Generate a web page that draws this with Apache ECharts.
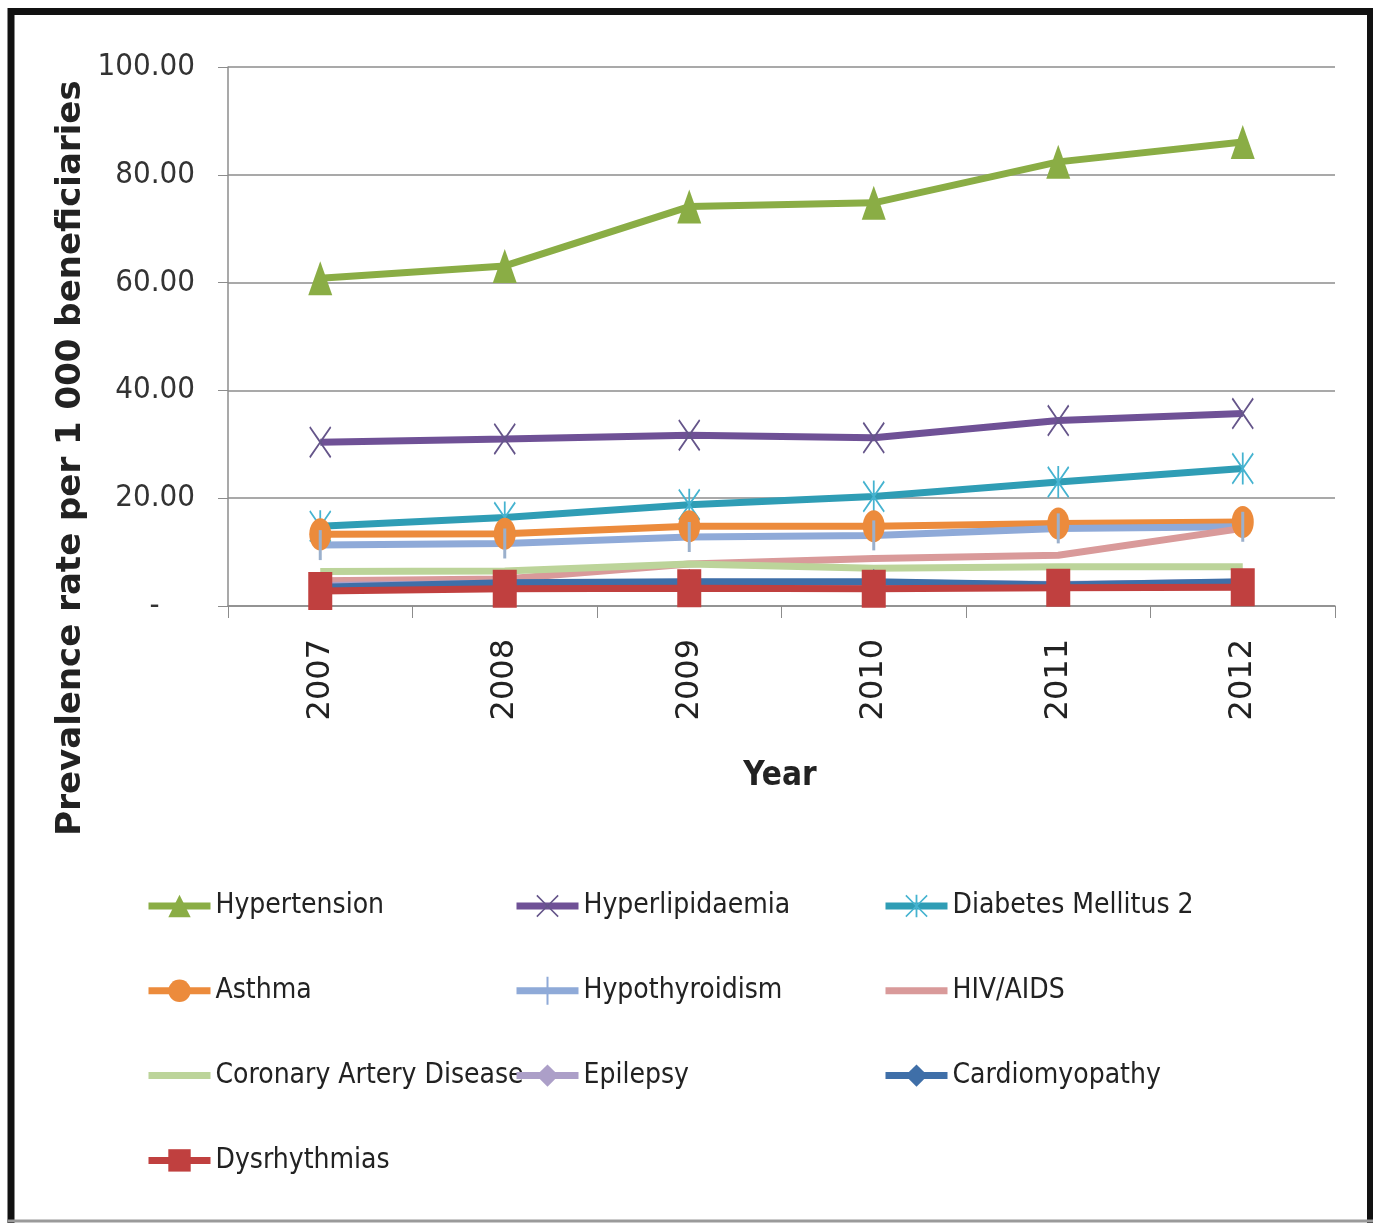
<!DOCTYPE html>
<html>
<head>
<meta charset="utf-8">
<script src="https://cdn.jsdelivr.net/npm/echarts@6/dist/echarts.min.js"></script>
<style>
html,body{margin:0;padding:0;background:#fff;}
#chart{width:1377px;height:1223px;}
</style>
</head>
<body>
<div id="chart"></div>
<script>
// ---- data ----
const years = ['2007', '2008', '2009', '2010', '2011', '2012'];
const yTicks = [0, 20, 40, 60, 80, 100];
const hypertension   = [60.8, 63.1, 74.1, 74.8, 82.4, 86.1];
const hyperlipidaemia = [30.4, 31.0, 31.7, 31.2, 34.4, 35.7];
const diabetes2      = [14.8, 16.4, 18.8, 20.3, 23.0, 25.5];
const asthma         = [13.3, 13.4, 14.8, 14.8, 15.3, 15.6];
const hypothyroidism = [11.3, 11.6, 12.8, 13.1, 14.4, 14.7];
const hivAids        = [4.7, 5.0, 7.8, 8.8, 9.4, 14.4];
const cad            = [6.4, 6.5, 7.8, 7.0, 7.3, 7.3];
const epilepsy       = [3.8, 4.2, 4.4, 4.3, 4.0, 4.4];
const cardiomyopathy = [3.5, 4.3, 4.5, 4.5, 3.9, 4.5];
const dysrhythmias   = [2.8, 3.2, 3.3, 3.2, 3.4, 3.5];
const yTitle = 'Prevalence rate per 1 000 beneficiaries';
const xTitle = 'Year';

const NARROW = "'Liberation Sans Narrow', 'DejaVu Sans Condensed', sans-serif";

const X_PATH = 'path://M0,1 L1,0 L10,9 L19,0 L20,1 L11,10 L20,19 L19,20 L10,11 L1,20 L0,19 L9,10 Z';
const AST_PATH = 'path://M0,1 L1,0 L10,9 L19,0 L20,1 L11,10 L20,19 L19,20 L10,11 L1,20 L0,19 L9,10 Z M9.2,0 L10.8,0 L10.8,20 L9.2,20 Z';
const VBAR_PATH = 'path://M0,0 L2,0 L2,20 L0,20 Z';
const ELLIPSE_PATH = 'path://M10,0 A10,10 0 1,1 10,20 A10,10 0 1,1 10,0 Z';
const HYPO_LEGEND = 'path://M0,10.5 L62,10.5 L62,17.5 L0,17.5 Z M30,0 L32,0 L32,28 L30,28 Z';

function mk(name, data, lineColor, markColor, symbol, size) {
  return {
    name: name, type: 'line', data: data,
    symbol: symbol || 'none',
    symbolSize: size || 10,
    showSymbol: !!symbol,
    lineStyle: { color: lineColor, width: 7 },
    itemStyle: { color: markColor || lineColor },
    emphasis: { disabled: true },
    animation: false
  };
}

const series = [
  mk('Hypertension', hypertension, '#8aad45', '#8aad45', 'triangle', [24, 34]),
  mk('Hyperlipidaemia', hyperlipidaemia, '#6f5196', '#65558a', X_PATH, [22, 32]),
  mk('Diabetes Mellitus 2', diabetes2, '#2f9db5', '#45b3d0', AST_PATH, [22, 32]),
  mk('Asthma', asthma, '#ec8b3c', '#ec8b3c', ELLIPSE_PATH, [22, 32]),
  mk('Hypothyroidism', hypothyroidism, '#8faad8', '#9bb0cc', VBAR_PATH, [3, 30]),
  mk('HIV/AIDS', hivAids, '#d99a9a', '#d99a9a', null),
  mk('Coronary Artery Disease', cad, '#bcd49a', '#bcd49a', null),
  mk('Epilepsy', epilepsy, '#ac9fc8', '#ac9fc8', 'diamond', [16, 26]),
  mk('Cardiomyopathy', cardiomyopathy, '#3f6fa8', '#3f6fa8', 'diamond', [16, 26]),
  mk('Dysrhythmias', dysrhythmias, '#c0403f', '#c0403f', 'rect', [24, 38])
];

const noMarker = { 'HIV/AIDS': 1, 'Coronary Artery Disease': 1 };
function legendCol(left, names) {
  return {
    orient: 'vertical', left: left, top: 892, padding: 0,
    data: names.map(function (n) {
      if (noMarker[n]) return { name: n, itemStyle: { opacity: 0 } };
      if (n === 'Hypothyroidism') return { name: n, icon: HYPO_LEGEND, itemStyle: { color: '#8faad8' } };
      return { name: n };
    }),
    itemWidth: 62, itemHeight: 28, itemGap: 56.8,
    selectedMode: false,
    lineStyle: { width: 7 },
    textStyle: { fontFamily: NARROW, fontSize: 28, color: '#222', lineHeight: 28 }
  };
}

const chart = echarts.init(document.getElementById('chart'), null, { renderer: 'canvas' });
chart.setOption({
  backgroundColor: '#fff',
  animation: false,
  grid: { left: 228, right: 42, top: 67, bottom: 617, containLabel: false },
  xAxis: {
    type: 'category', data: years, boundaryGap: true,
    axisLine: { lineStyle: { color: '#8c8c8c', width: 1.5 } },
    axisTick: { show: true, length: 12, alignWithLabel: false, lineStyle: { color: '#8c8c8c' } },
    axisLabel: { rotate: 90, margin: 33, fontFamily: "'DejaVu Sans', sans-serif", fontSize: 32, color: '#222' }
  },
  yAxis: {
    type: 'value', min: yTicks[0], max: yTicks[yTicks.length - 1], interval: 20,
    axisLine: { show: true, lineStyle: { color: '#8c8c8c', width: 1.5 } },
    axisTick: { show: true, length: 10, lineStyle: { color: '#8c8c8c' } },
    splitLine: { show: true, lineStyle: { color: '#8c8c8c', width: 1.5 } },
    axisLabel: {
      margin: 33, fontFamily: NARROW, fontSize: 31, color: '#333',
      formatter: function (v) { return v === 0 ? '-    ' : v.toFixed(2); }
    }
  },
  legend: [
    legendCol(145, ['Hypertension', 'Asthma', 'Coronary Artery Disease', 'Dysrhythmias']),
    legendCol(513, ['Hyperlipidaemia', 'Hypothyroidism', 'Epilepsy']),
    legendCol(882, ['Diabetes Mellitus 2', 'HIV/AIDS', 'Cardiomyopathy'])
  ],
  series: series,
  graphic: [
    { type: 'text', x: 71, y: 458, rotation: Math.PI / 2, silent: true,
      style: { text: yTitle, font: "bold 34px 'DejaVu Sans', sans-serif", fill: '#222', align: 'center', verticalAlign: 'middle' } },
    { type: 'text', x: 780, y: 776, silent: true,
      style: { text: xTitle, font: "bold 33px " + NARROW, fill: '#222', align: 'center', verticalAlign: 'middle' } },
    { type: 'line', shape: { x1: 11, y1: 8, x2: 11, y2: 1223 }, style: { stroke: '#111', lineWidth: 7 }, silent: true },
    { type: 'line', shape: { x1: 8, y1: 11.5, x2: 1373, y2: 11.5 }, style: { stroke: '#111', lineWidth: 7 }, silent: true },
    { type: 'line', shape: { x1: 1370, y1: 8, x2: 1370, y2: 1223 }, style: { stroke: '#111', lineWidth: 6 }, silent: true },
    { type: 'line', shape: { x1: 8, y1: 1221, x2: 1373, y2: 1221 }, style: { stroke: '#9a9a9a', lineWidth: 3 }, silent: true }
  ]
});
</script>
</body>
</html>
